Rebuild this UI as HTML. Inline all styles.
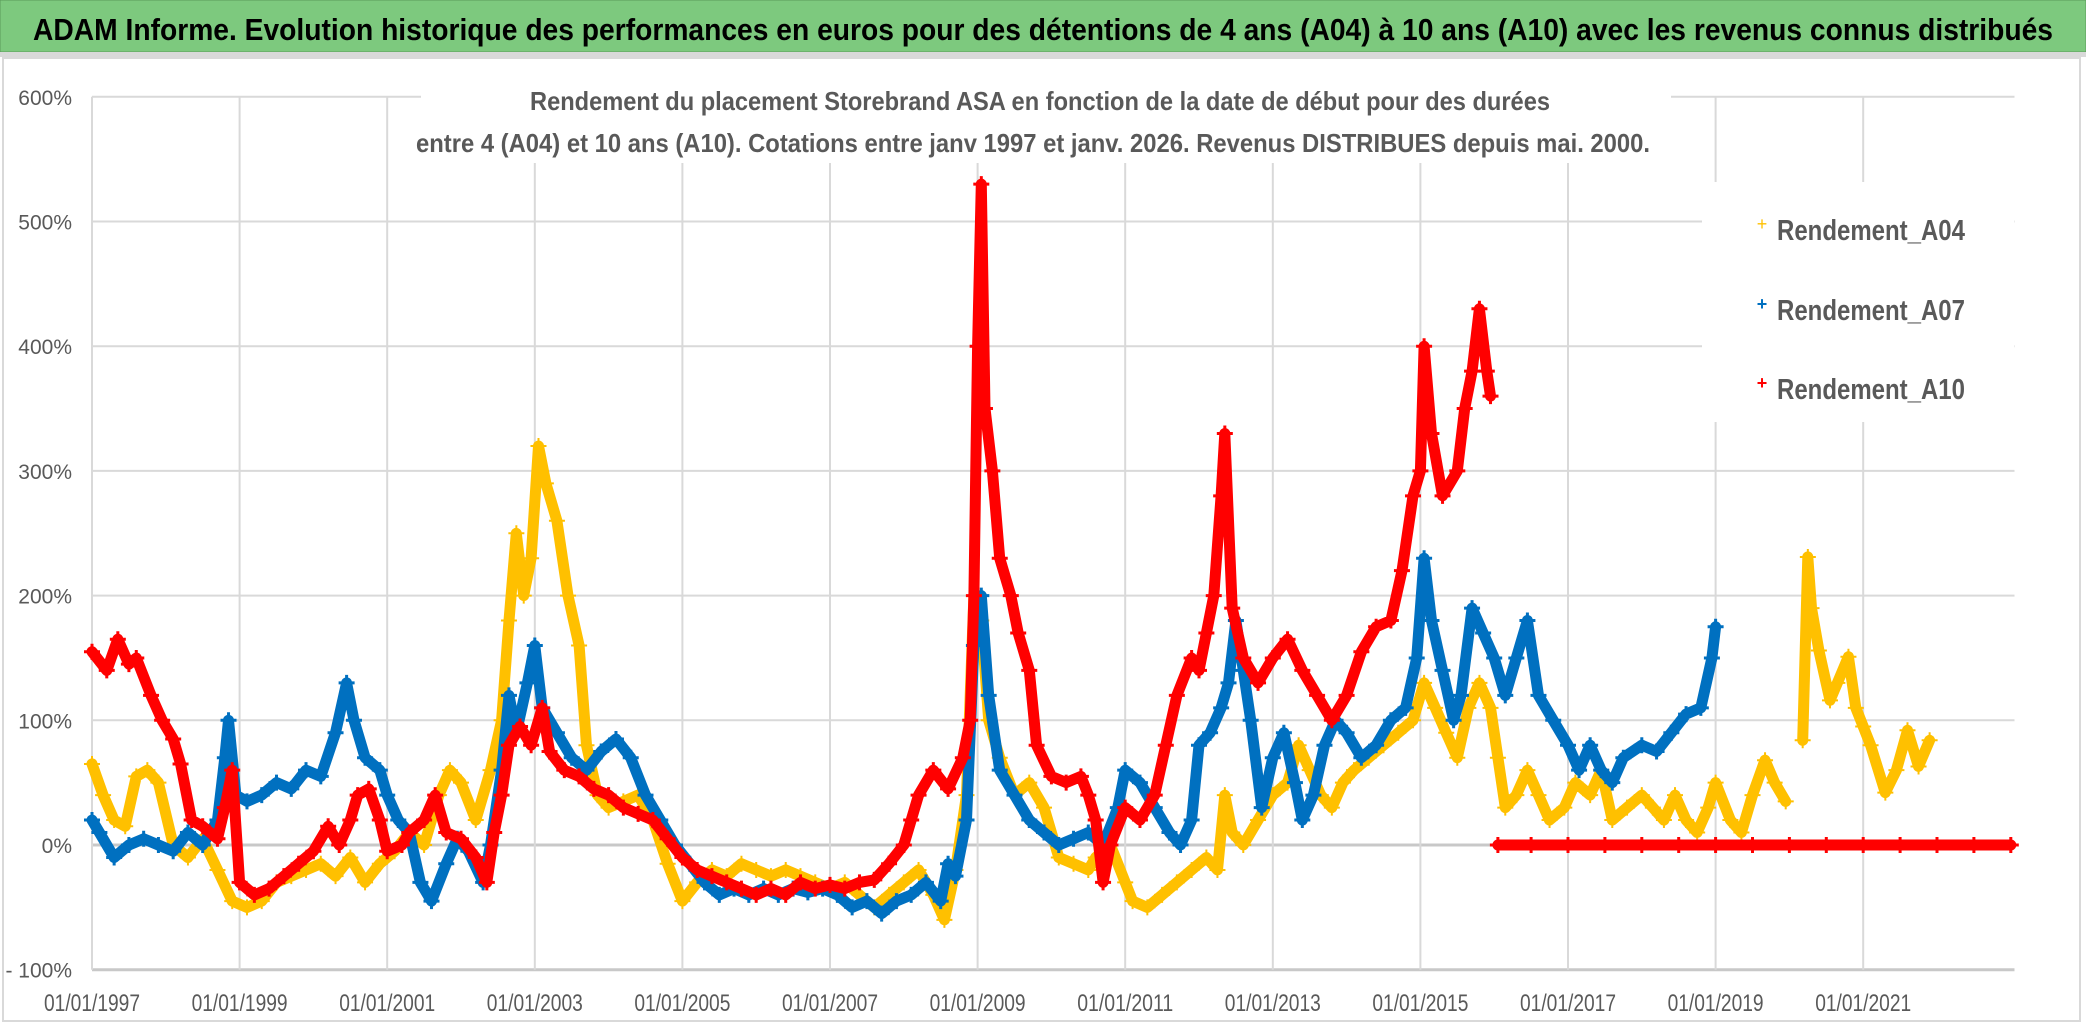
<!DOCTYPE html>
<html><head><meta charset="utf-8"><style>
html,body{margin:0;padding:0;background:#fff;width:2086px;height:1032px;overflow:hidden}
svg{display:block;font-family:"Liberation Sans",sans-serif}
</style></head><body>
<svg id="chart" width="2086" height="1032" viewBox="0 0 2086 1032">
<rect x="0" y="0" width="2086" height="52" fill="#7dc97e" stroke="#5a9a5a" stroke-width="1"/>
<rect x="0" y="52" width="2086" height="5" fill="#d9d9d9"/>
<text x="33" y="40" font-size="31" font-weight="bold" fill="#000" textLength="2020" lengthAdjust="spacingAndGlyphs">ADAM Informe. Evolution historique des performances en euros pour des détentions de 4 ans (A04) à 10 ans (A10) avec les revenus connus distribués</text>
<rect x="3" y="58" width="2077" height="963" fill="none" stroke="#d9d9d9" stroke-width="2"/>
<g id="grid"></g>
<g id="axes"></g>
<g id="series"></g>
<rect x="421" y="70" width="1250" height="93" fill="#fff"/>
<text x="1040" y="110" font-size="26" font-weight="bold" fill="#595959" text-anchor="middle" textLength="1020" lengthAdjust="spacingAndGlyphs">Rendement du placement Storebrand ASA en fonction de la date de début pour des durées</text>
<text x="1033" y="152" font-size="26" font-weight="bold" fill="#595959" text-anchor="middle" textLength="1234" lengthAdjust="spacingAndGlyphs">entre 4 (A04) et 10 ans (A10). Cotations entre janv 1997 et janv. 2026. Revenus DISTRIBUES depuis mai. 2000.</text>
<g>
<rect x="1702" y="182" width="312" height="240" fill="#fff"/>
<g><text x="1762" y="230" font-size="18" fill="#ffc000" text-anchor="middle">+</text><text x="1777" y="240" font-size="29" font-weight="bold" fill="#595959" textLength="188" lengthAdjust="spacingAndGlyphs">Rendement_A04</text></g>
<g><text x="1762" y="310" font-size="18" fill="#0070c0" text-anchor="middle" font-weight="bold">+</text><text x="1777" y="320" font-size="29" font-weight="bold" fill="#595959" textLength="188" lengthAdjust="spacingAndGlyphs">Rendement_A07</text></g>
<g><text x="1762" y="389" font-size="18" fill="#ff0000" text-anchor="middle" font-weight="bold">+</text><text x="1777" y="399" font-size="29" font-weight="bold" fill="#595959" textLength="188" lengthAdjust="spacingAndGlyphs">Rendement_A10</text></g>
</g>
</svg>
<script>
const yTicks = [-100,0,100,200,300,400,500,600];
const yTickLabels = ["- 100%","0%","100%","200%","300%","400%","500%","600%"];
const xTickYears = [1997,1999,2001,2003,2005,2007,2009,2011,2013,2015,2017,2019,2021];
const xTickLabels = ["01/01/1997","01/01/1999","01/01/2001","01/01/2003","01/01/2005","01/01/2007","01/01/2009","01/01/2011","01/01/2013","01/01/2015","01/01/2017","01/01/2019","01/01/2021"];

const a10Dates = [1997.0,1997.2,1997.35,1997.5,1997.6,1997.8,1997.95,1998.1,1998.2,1998.35,1998.5,1998.7,1998.8,1998.9,1999.0,1999.2,1999.4,1999.6,1999.8,2000.0,2000.2,2000.35,2000.5,2000.6,2000.75,2000.9,2001.0,2001.2,2001.3,2001.5,2001.65,2001.8,2002.0,2002.2,2002.35,2002.45,2002.55,2002.65,2002.8,2002.95,2003.1,2003.2,2003.4,2003.6,2003.8,2004.0,2004.2,2004.4,2004.6,2004.8,2005.0,2005.2,2005.4,2005.6,2005.8,2006.0,2006.2,2006.4,2006.6,2006.8,2007.0,2007.2,2007.4,2007.6,2007.8,2008.0,2008.1,2008.2,2008.4,2008.6,2008.8,2008.9,2008.95,2009.0,2009.05,2009.1,2009.2,2009.3,2009.45,2009.55,2009.7,2009.8,2010.0,2010.2,2010.4,2010.5,2010.6,2010.7,2010.8,2011.0,2011.2,2011.4,2011.55,2011.7,2011.9,2012.0,2012.1,2012.2,2012.3,2012.35,2012.45,2012.6,2012.8,2013.0,2013.2,2013.4,2013.6,2013.8,2014.0,2014.2,2014.4,2014.6,2014.75,2014.9,2015.0,2015.05,2015.15,2015.3,2015.5,2015.6,2015.7,2015.8,2015.9,2015.95,null,2016.05,2016.5,2017.0,2017.5,2018.0,2018.5,2019.0,2019.5,2020.0,2020.5,2021.0,2021.5,2022.0,2022.5,2023.0];
const a10Values = [155,140,165,145,150,120,100,85,65,20,15,5,30,60,-30,-40,-35,-25,-15,-5,15,0,20,40,45,20,-5,0,10,20,40,10,5,-10,-30,10,40,80,95,80,110,75,60,55,45,40,30,25,20,5,-10,-20,-25,-30,-35,-40,-35,-40,-30,-35,-32,-35,-30,-28,-15,0,20,40,60,45,70,100,200,400,530,350,300,230,200,170,140,80,55,50,55,40,20,-30,0,30,20,40,80,120,150,140,170,200,280,330,190,150,130,150,165,140,120,100,120,155,175,180,220,280,300,400,330,280,300,350,380,430,380,360,null,0,0,0,0,0,0,0,0,0,0,0,0,0,0,0];

const a07Dates = [1997.0,1997.1,1997.3,1997.5,1997.7,1997.9,1998.1,1998.3,1998.5,1998.7,1998.8,1998.85,1998.95,1999.1,1999.3,1999.5,1999.7,1999.9,2000.1,2000.3,2000.45,2000.55,2000.7,2000.9,2001.0,2001.15,2001.3,2001.45,2001.6,2001.8,2001.95,2002.1,2002.3,2002.4,2002.55,2002.65,2002.75,2002.9,2003.0,2003.1,2003.3,2003.5,2003.7,2003.9,2004.1,2004.3,2004.5,2004.7,2004.9,2005.1,2005.3,2005.5,2005.7,2005.9,2006.1,2006.3,2006.5,2006.7,2006.9,2007.1,2007.3,2007.5,2007.7,2007.9,2008.1,2008.3,2008.5,2008.6,2008.7,2008.85,2008.95,2009.05,2009.15,2009.3,2009.5,2009.7,2009.9,2010.1,2010.3,2010.5,2010.7,2010.9,2011.0,2011.2,2011.4,2011.6,2011.75,2011.9,2012.0,2012.15,2012.3,2012.4,2012.5,2012.6,2012.7,2012.85,2013.0,2013.15,2013.3,2013.4,2013.55,2013.7,2013.85,2014.0,2014.2,2014.4,2014.6,2014.8,2014.95,2015.05,2015.15,2015.3,2015.45,2015.55,2015.7,2015.85,2016.0,2016.15,2016.3,2016.45,2016.6,2016.8,2017.0,2017.15,2017.3,2017.45,2017.6,2017.75,2018.0,2018.2,2018.4,2018.6,2018.8,2018.95,2019.0];
const a07Values = [20,10,-10,0,5,0,-5,10,0,20,70,100,40,35,40,50,45,60,55,90,130,100,70,60,40,20,10,-30,-45,-15,5,-5,-30,0,60,120,90,130,160,110,90,70,60,75,85,70,40,20,0,-15,-30,-40,-35,-40,-35,-40,-35,-38,-35,-40,-50,-45,-55,-45,-40,-30,-45,-15,-25,20,160,200,120,60,40,20,10,0,5,10,0,30,60,50,30,10,0,20,80,90,110,130,180,140,100,30,70,90,50,20,40,80,100,90,70,80,100,110,150,230,180,140,100,120,190,170,150,120,150,180,120,100,80,60,80,60,50,70,80,75,90,105,110,150,175];

const a04Dates = [1997.0,1997.15,1997.3,1997.45,1997.6,1997.75,1997.9,1998.1,1998.3,1998.5,1998.7,1998.9,1999.1,1999.3,1999.5,1999.7,1999.9,2000.1,2000.3,2000.5,2000.7,2000.9,2001.1,2001.3,2001.5,2001.7,2001.85,2002.0,2002.2,2002.4,2002.55,2002.65,2002.75,2002.85,2002.95,2003.05,2003.15,2003.3,2003.45,2003.6,2003.7,2003.85,2004.0,2004.2,2004.4,2004.6,2004.8,2005.0,2005.2,2005.4,2005.6,2005.8,2006.0,2006.2,2006.4,2006.6,2006.8,2007.0,2007.2,2007.4,2007.6,2007.8,2008.0,2008.2,2008.4,2008.55,2008.7,2008.85,2008.95,2009.05,2009.15,2009.3,2009.5,2009.7,2009.9,2010.1,2010.3,2010.5,2010.6,2010.8,2011.0,2011.1,2011.3,2011.5,2011.7,2011.9,2012.1,2012.25,2012.35,2012.45,2012.6,2012.8,2013.0,2013.2,2013.35,2013.5,2013.65,2013.8,2013.95,2014.1,2014.3,2014.5,2014.7,2014.9,2015.05,2015.2,2015.35,2015.5,2015.65,2015.8,2015.95,2016.05,2016.15,2016.3,2016.45,2016.6,2016.75,2016.95,2017.1,2017.3,2017.45,2017.6,2017.8,2018.0,2018.15,2018.3,2018.45,2018.6,2018.75,2018.9,2019.0,2019.2,2019.35,2019.5,2019.67,2019.8,2019.95,null,2020.18,2020.25,2020.3,2020.4,2020.55,2020.65,2020.8,2020.9,2021.0,2021.1,2021.3,2021.45,2021.6,2021.75,2021.9];
const a04Values = [65,40,20,15,55,60,50,0,-10,5,-20,-45,-50,-45,-30,-25,-20,-15,-25,-10,-30,-15,-5,10,0,40,60,50,20,60,100,180,250,200,230,320,290,260,200,160,80,40,30,35,40,20,-15,-45,-30,-20,-25,-15,-20,-25,-20,-25,-30,-35,-30,-40,-50,-40,-30,-20,-40,-60,-20,40,200,180,100,70,40,50,30,-10,-15,-20,-10,0,-30,-45,-50,-40,-30,-20,-10,-20,40,10,0,20,40,50,80,60,40,30,50,60,70,80,90,100,130,110,90,70,110,130,110,70,30,40,60,40,20,30,50,40,60,20,30,40,30,20,40,20,10,30,50,20,10,40,68,50,35,null,84,231,190,156,116,130,151,110,95,80,42,60,92,63,84];

const X0 = 92, YEAR_W = 73.8, Y0 = 845, PCT = 1.247;
function xScale(yr){ return X0 + (yr - 1997) * YEAR_W; }
function yScale(v){ return Y0 - v * PCT; }
const NS = "http://www.w3.org/2000/svg";
const grid = document.getElementById('grid');
const axes = document.getElementById('axes');
const series = document.getElementById('series');
const xEnd = xScale(2023.05);

yTicks.forEach((t,i)=>{
  const l = document.createElementNS(NS,'line');
  
  
  l.setAttribute('x1',X0); l.setAttribute('x2',xEnd);
  l.setAttribute('y1',yScale(t)); l.setAttribute('y2',yScale(t));
  l.setAttribute('stroke', t===0||t===-100 ? '#c8c8c8' : '#d9d9d9');
  l.setAttribute('stroke-width', t===0||t===-100 ? 3 : 2);
  grid.appendChild(l);
  const tx = document.createElementNS(NS,'text');
  
  
  tx.setAttribute('x',72); tx.setAttribute('y',yScale(t)+8);
  tx.setAttribute('text-anchor','end'); tx.setAttribute('font-size','21');
  tx.setAttribute('fill','#595959');
  tx.textContent = yTickLabels[i];
  axes.appendChild(tx);
});
xTickYears.forEach((yr,i)=>{
  const x = xScale(yr);
  if (i>0){
    const l = document.createElementNS(NS,'line');
    
    
    l.setAttribute('x1',x); l.setAttribute('x2',x);
    l.setAttribute('y1',yScale(600)); l.setAttribute('y2',yScale(-100));
    l.setAttribute('stroke','#d9d9d9'); l.setAttribute('stroke-width',2);
    grid.appendChild(l);
  }
  const tx = document.createElementNS(NS,'text');
  
  
  tx.setAttribute('x',x); tx.setAttribute('y',1011);
  tx.setAttribute('text-anchor','middle'); tx.setAttribute('font-size','24');
  tx.setAttribute('fill','#595959');
  tx.setAttribute('textLength','96'); tx.setAttribute('lengthAdjust','spacingAndGlyphs');
  tx.textContent = xTickLabels[i];
  axes.appendChild(tx);
});
const vl = document.createElementNS(NS,'line');


vl.setAttribute('x1',X0); vl.setAttribute('x2',X0); vl.setAttribute('y1',yScale(600)); vl.setAttribute('y2',yScale(-100));
vl.setAttribute('stroke','#d9d9d9'); vl.setAttribute('stroke-width',2);
grid.appendChild(vl);

function drawSeries(dates, vals, color, name, bold){
  const g = document.createElementNS(NS,'g');
  
  
  let seg = [];
  const flush = ()=>{
    if (seg.length>1){
      const p = document.createElementNS(NS,'polyline');
      
      
      p.setAttribute('points', seg.join(' '));
      p.setAttribute('fill','none'); p.setAttribute('stroke',color);
      p.setAttribute('stroke-width',11); p.setAttribute('stroke-linejoin','round');
      p.setAttribute('stroke-linecap','round');
      g.appendChild(p);
    }
    seg = [];
  };
  for (let i=0;i<dates.length;i++){
    if (dates[i]===null || vals[i]===null){ flush(); continue; }
    const x = xScale(dates[i]), y = yScale(vals[i]);
    seg.push(x.toFixed(1)+','+y.toFixed(1));
    const m = document.createElementNS(NS,'path');
    
    
    m.setAttribute('d','M'+(x-8)+' '+y+'H'+(x+8)+'M'+x+' '+(y-8)+'V'+(y+8));
    m.setAttribute('stroke',color); m.setAttribute('stroke-width', bold?3:2);
    g.appendChild(m);
  }
  flush();
  series.appendChild(g);
}
drawSeries(a04Dates, a04Values, '#ffc000', 'series-a04', false);
drawSeries(a07Dates, a07Values, '#0070c0', 'series-a07', true);
drawSeries(a10Dates, a10Values, '#ff0000', 'series-a10', true);
</script>
</body></html>
